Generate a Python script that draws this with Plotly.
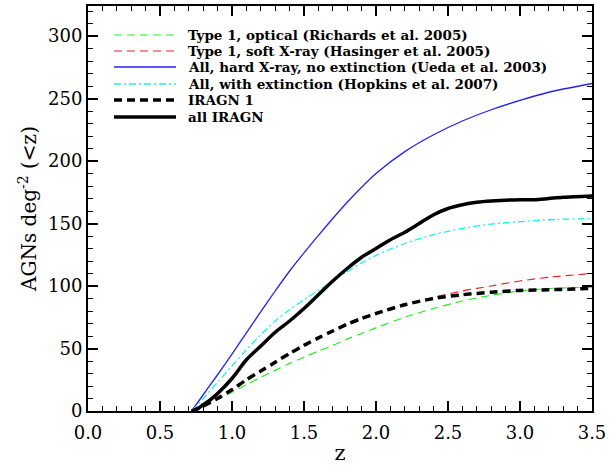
import plotly.graph_objects as go

# ---- data ----
z_models = [0.72, 0.8, 0.9, 1.0, 1.1, 1.2, 1.3, 1.4, 1.5, 1.6, 1.7, 1.8, 1.9, 2.0,
            2.2, 2.4, 2.6, 2.8, 3.0, 3.2, 3.5]
richards = [0, 4, 9.5, 15, 21, 27, 32.5, 38, 43, 48, 52.5, 57.5, 62, 66.5,
            75, 82, 88, 92.5, 96, 98, 99]
hasinger = [0, 5, 11, 18, 25, 32, 39, 46, 52.5, 58.5, 64, 69.5, 74, 78,
            85, 91, 96, 100, 104, 107, 110]
ueda = [0, 13, 29, 45.5, 62.5, 79.5, 96, 112, 126.5, 140.5, 154, 167, 179, 190,
        207.5, 221, 232, 241, 248.5, 255, 262]
hopkins = [0, 10, 23, 36, 49, 61, 72, 81, 89, 96.5, 104, 111.5, 118.5, 124.5,
           134, 141, 146, 149.5, 151.5, 153, 154]
iragn1 = [0, 4, 10, 17, 25, 32, 39, 46, 52.5, 58.5, 64, 69.5, 74, 78,
          85, 90, 93, 95, 96.5, 97, 98]

z_all = [0.72, 0.75, 0.8, 0.85, 0.9, 1.0, 1.1, 1.2, 1.3, 1.4, 1.5, 1.6, 1.7, 1.8,
         1.9, 2.0, 2.1, 2.2, 2.3, 2.4, 2.5, 2.6, 2.7, 2.8, 3.0, 3.1, 3.2, 3.3, 3.5]
all_iragn = [0, 1, 5, 9, 14, 26, 41, 52, 63, 72, 82, 93, 104, 114,
             123, 130, 137, 143, 150, 157, 162, 165, 167, 168, 169, 169, 170, 171, 172]

labels = ["Type 1, optical (Richards et al. 2005)",
          "Type 1, soft X-ray (Hasinger et al. 2005)",
          "All, hard X-ray, no extinction (Ueda et al. 2003)",
          "All, with extinction (Hopkins et al. 2007)",
          "IRAGN 1",
          "all IRAGN"]

styles = [
    dict(color="#22ee22", width=1.2, dash="8px,5px"),
    dict(color="#ee2222", width=1.2, dash="8px,5px"),
    dict(color="#2222ee", width=1.3, dash="solid"),
    dict(color="#22eeee", width=1.3, dash="7px,3px,2px,3px"),
    dict(color="black", width=3.5, dash="8px,5px"),
    dict(color="black", width=3.5, dash="solid"),
]

series = [(z_models, richards), (z_models, hasinger), (z_models, ueda),
          (z_models, hopkins), (z_models, iragn1), (z_all, all_iragn)]

fig = go.Figure()
for (xs, ys), st, lab in zip(series, styles, labels):
    fig.add_trace(go.Scatter(x=xs, y=ys, mode="lines", line=st, name=lab,
                             showlegend=False, line_shape="spline",
                             line_smoothing=0.8))

# ---- manual legend (IDL style) ----
L, R, T, B = 88, 592, 6, 411
W, H = R - L, B - T
row_y = [35, 51, 67, 84, 100, 117]
for st, lab, py in zip(styles, labels, row_y):
    yp = (B - py) / H
    fig.add_shape(type="line", xref="paper", yref="paper",
                  x0=(114 - L) / W, x1=(176 - L) / W, y0=yp, y1=yp,
                  line=dict(color=st["color"], width=st["width"], dash=st["dash"]))
    fig.add_annotation(xref="paper", yref="paper", x=(186 - L) / W, y=yp,
                       text=lab, showarrow=False, xanchor="left", yanchor="middle",
                       font=dict(family="DejaVu Serif", size=13.5, weight="bold",
                                 color="black"))

axis_common = dict(showline=True, linecolor="black", linewidth=2, mirror="allticks",
                   ticks="inside", ticklen=10, tickwidth=1.5, tickcolor="black",
                   showgrid=False, zeroline=False, automargin=False,
                   tickfont=dict(family="DejaVu Serif", size=18, color="black"))

fig.update_xaxes(range=[0, 3.5], dtick=0.5, tick0=0, tickformat=".1f",
                 ticklabelstandoff=4,
                 minor=dict(ticks="inside", ticklen=5, dtick=0.1, tickcolor="black", tickwidth=1.2),
                 title=dict(text="z", font=dict(family="DejaVu Serif", size=21, color="black"), standoff=4),
                 **axis_common)
fig.update_yaxes(range=[0, 324], dtick=50, tick0=0,
                 minor=dict(ticks="inside", ticklen=5, dtick=10, tickcolor="black", tickwidth=1.2),
                 title=dict(text="AGNs deg<sup>-2</sup> (<z)",
                            font=dict(family="DejaVu Serif", size=20, color="black"), standoff=6),
                 **axis_common)

fig.update_layout(width=609, height=465, plot_bgcolor="white", paper_bgcolor="white",
                  margin=dict(l=L, r=609 - R, t=T, b=465 - B), showlegend=False)

fig.write_html("out.html")
